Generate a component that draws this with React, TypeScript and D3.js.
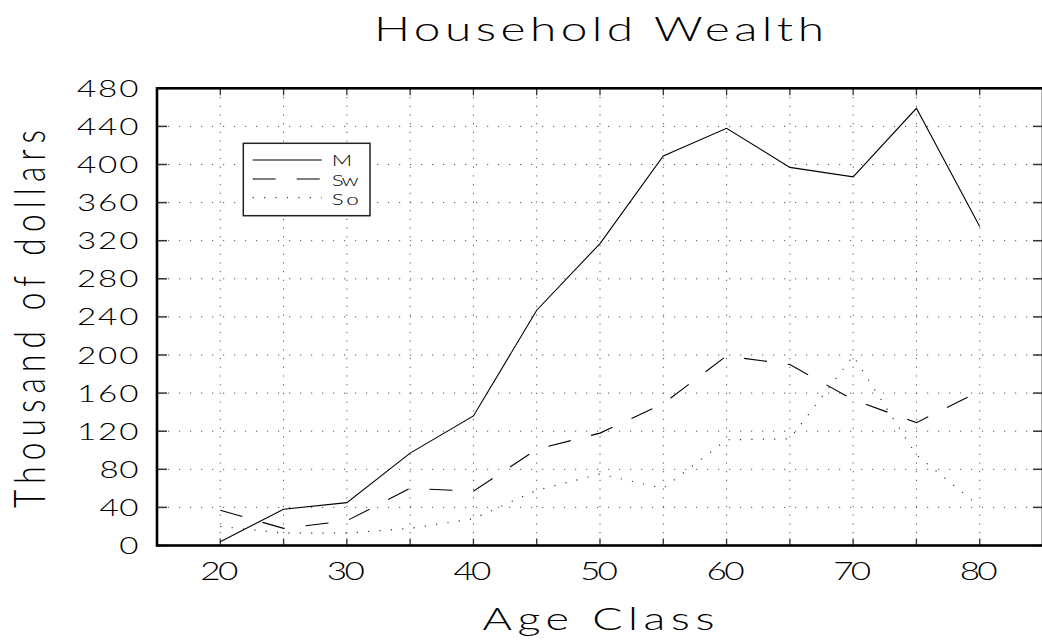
import React from "react";
import * as d3 from "d3";

const ages = [20, 25, 30, 35, 40, 45, 50, 55, 60, 65, 70, 75, 80];
const seriesM = [4, 38, 45, 97, 136, 247, 317, 409, 438, 397, 387, 459, 335];
const seriesSw = [37, 18, 26, 60, 57, 101, 118, 149, 199, 190, 153, 129, 162];
const seriesSo = [20, 13, 13, 18, 28, 58, 75, 60, 111, 112, 199, 95, 41];
const xTicks = [20, 25, 30, 35, 40, 45, 50, 55, 60, 65, 70, 75, 80];
const xLabels = [20, 30, 40, 50, 60, 70, 80];
const yTicks = [0, 40, 80, 120, 160, 200, 240, 280, 320, 360, 400, 440, 480];
const legendNames = ["M", "Sw", "So"];
const titleText = "Household Wealth";
const xTitle = "Age Class";
const yTitle = "Thousand of dollars";

const W = 1042;
const H = 640;
const L = 157;
const R = 1043;
const T = 88.3;
const B = 545.5;
const S = 1.4; // horizontal stretch of glyphs
const CAP = 0.7165;
const FONT = "Lato, 'DejaVu Sans', sans-serif";
const FW = 300;

const x = d3.scaleLinear().domain([15, 85]).range([L, R]);
const y = d3.scaleLinear().domain([0, 480]).range([B, T]);

function HText(props: {
  x: number;
  y: number;
  cap: number;
  len?: number;
  anchor?: string;
  children: any;
}) {
  const fs = props.cap / CAP;
  const extra: any = {};
  if (props.len) {
    extra.textLength = props.len / S;
    extra.lengthAdjust = "spacing";
  }
  return (
    <text
      transform={`translate(${props.x},${props.y}) scale(${S},1)`}
      fontSize={fs}
      fontFamily={FONT}
      fontWeight={FW}
      textAnchor={props.anchor || "start"}
      fill="#000"
      {...extra}
    >
      {props.children}
    </text>
  );
}

export default function App() {
  const line = d3
    .line<number>()
    .x((_, i) => x(ages[i]))
    .y((d) => y(d));

  const lineStyles = [
    { data: seriesM, dash: undefined, color: "#000", w: 1.1 },
    { data: seriesSw, dash: "23 21", color: "#000", w: 1.1 },
    { data: seriesSo, dash: "1.2 10.2", color: "#333", w: 1.2 },
  ];

  const lgX0 = 252.7;
  const lgX1 = 321.7;
  const lgYs = [160, 179, 197.7];
  const lgBase = [166, 185.5, 204.5];

  return (
    <svg
      width={W}
      height={H}
      style={{ position: "absolute", left: 0, top: 0, background: "#fff" }}
    >
      <rect x={0} y={0} width={W} height={H} fill="#fff" />
      {/* grid */}
      {yTicks
        .filter((v) => v > 0 && v < 480)
        .map((v) => (
          <line
            key={"gy" + v}
            x1={L}
            x2={R}
            y1={y(v)}
            y2={y(v)}
            stroke="#555"
            strokeWidth={1}
            strokeDasharray="1.2 9.8"
          />
        ))}
      {xTicks.map((v) => (
        <line
          key={"gx" + v}
          x1={x(v)}
          x2={x(v)}
          y1={T}
          y2={B}
          stroke="#555"
          strokeWidth={1}
          strokeDasharray="1.2 7.5"
        />
      ))}
      {/* ticks */}
      {xTicks.map((v) => (
        <g key={"tx" + v}>
          <line x1={x(v)} x2={x(v)} y1={B} y2={B - 7} stroke="#333" strokeWidth={1.3} />
          <line x1={x(v)} x2={x(v)} y1={T} y2={T + 7} stroke="#333" strokeWidth={1.3} />
        </g>
      ))}
      {yTicks.map((v) => (
        <g key={"ty" + v}>
          <line x1={L} x2={L + 10} y1={y(v)} y2={y(v)} stroke="#333" strokeWidth={1.5} />
          <line x1={R} x2={R - 10} y1={y(v)} y2={y(v)} stroke="#333" strokeWidth={1.5} />
        </g>
      ))}
      {/* series */}
      {lineStyles.map((s, i) => (
        <path
          key={"s" + i}
          d={line(s.data) || ""}
          fill="none"
          stroke={s.color}
          strokeWidth={s.w}
          strokeDasharray={s.dash}
        />
      ))}
      {/* axes frame */}
      <rect x={L} y={T} width={R - L} height={B - T} fill="none" stroke="#000" strokeWidth={2.6} />
      {/* tick labels */}
      {yTicks.map((v) => {
        const n = String(v).length;
        return (
          <HText key={"ly" + v} x={138.5} y={y(v) + 8.5} cap={17} anchor="end" len={n > 1 ? 22.5 * n - 6 : undefined}>
            {v}
          </HText>
        );
      })}
      {xLabels.map((v) => (
        <HText key={"lx" + v} x={x(v) - 1} y={579.5} cap={18} anchor="middle" len={38}>
          {v}
        </HText>
      ))}
      {/* titles */}
      <HText x={599} y={41} cap={24.5} anchor="middle" len={450}>
        {titleText}
      </HText>
      <HText x={598.5} y={629.5} cap={23} anchor="middle" len={232}>
        {xTitle}
      </HText>
      <text
        transform={`translate(45,319) rotate(-90) scale(1,${S})`}
        fontSize={(31.7 / S) / CAP}
        fontFamily={FONT}
        fontWeight={FW}
        textAnchor="middle"
        textLength={378}
        lengthAdjust="spacing"
        fill="#000"
      >
        {yTitle}
      </text>
      {/* legend */}
      <rect x={243.3} y={143.3} width={126.7} height={72.4} fill="#fff" stroke="#222" strokeWidth={1.5} />
      {lineStyles.map((s, i) => (
        <g key={"lg" + i}>
          <line
            x1={lgX0}
            x2={lgX1}
            y1={lgYs[i]}
            y2={lgYs[i]}
            stroke={s.color}
            strokeWidth={s.w}
            strokeDasharray={s.dash}
          />
          <HText x={331.7} y={lgBase[i]} cap={11.5} len={legendNames[i].length > 1 ? 27 : undefined}>
            {legendNames[i]}
          </HText>
        </g>
      ))}
    </svg>
  );
}
